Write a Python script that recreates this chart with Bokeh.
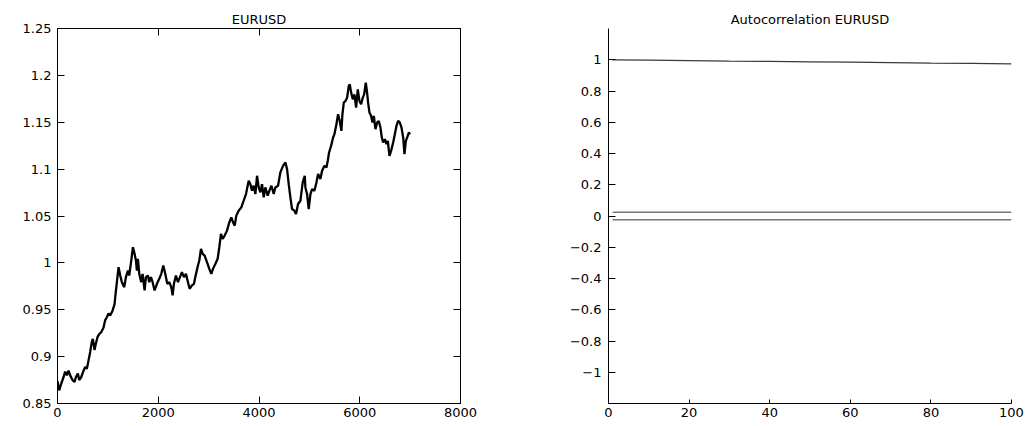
from bokeh.plotting import figure
from bokeh.layouts import row
from bokeh.models import Range1d, LinearAxis, FixedTicker, CustomLabelingPolicy
from bokeh.embed import file_html
from bokeh.resources import INLINE

# EURUSD price path (observation index, rate)
obs = [0, 33, 73, 119, 152, 186, 219, 252, 298, 338, 364, 404, 431, 470, 517, 550,
       583, 616, 649, 682, 702, 735, 762, 795, 828, 868, 914, 947, 980, 1013, 1046,
       1093, 1133, 1146, 1179, 1212, 1245, 1278, 1325, 1358, 1398, 1424, 1464, 1497,
       1530, 1557, 1576, 1596, 1623, 1662, 1689, 1729, 1755, 1795, 1821, 1855, 1888,
       1927, 1974, 2020, 2060, 2100, 2139, 2179, 2219, 2258, 2285, 2311, 2351, 2391,
       2431, 2470, 2510, 2550, 2590, 2623, 2669, 2709, 2735, 2788, 2815, 2848, 2881,
       2921, 2967, 3014, 3053, 3086, 3133, 3179, 3212, 3245, 3278, 3318, 3365, 3411,
       3451, 3484, 3517, 3550, 3596, 3649, 3696, 3742, 3795, 3828, 3861, 3894, 3928,
       3961, 3994, 4027, 4060, 4093, 4126, 4173, 4206, 4246, 4292, 4325, 4378, 4424,
       4477, 4524, 4557, 4590, 4623, 4656, 4702, 4735, 4775, 4822, 4868, 4908, 4921,
       4954, 4987, 5021, 5054, 5100, 5140, 5173, 5219, 5252, 5299, 5339, 5365, 5391,
       5431, 5471, 5497, 5537, 5570, 5603, 5636, 5656, 5683, 5716, 5749, 5782, 5802,
       5829, 5862, 5895, 5928, 5961, 5994, 6027, 6060, 6087, 6120, 6146, 6166, 6193,
       6226, 6252, 6279, 6312, 6345, 6378, 6411, 6438, 6464, 6498, 6531, 6557, 6590,
       6623, 6663, 6696, 6729, 6762, 6796, 6829, 6862, 6888, 6915, 6941, 6974, 7000]
rate = [0.874, 0.864, 0.871, 0.878, 0.884, 0.880, 0.885, 0.880, 0.875, 0.873, 0.878,
        0.882, 0.875, 0.878, 0.885, 0.889, 0.887, 0.896, 0.905, 0.916, 0.919, 0.907,
        0.914, 0.921, 0.924, 0.926, 0.931, 0.939, 0.942, 0.946, 0.944, 0.949, 0.956,
        0.9635, 0.9794, 0.9954, 0.9865, 0.9794, 0.9741, 0.9848, 0.9918, 0.9865, 1.0025,
        1.0167, 1.0096, 1.0025, 0.9918, 1.0043, 0.9883, 0.9794, 0.9883, 0.9706, 0.9848,
        0.9865, 0.9794, 0.9848, 0.9794, 0.9706, 0.9777, 0.9830, 0.9883, 0.9972, 0.9883,
        0.9777, 0.9794, 0.9741, 0.9653, 0.9777, 0.9865, 0.9794, 0.9848, 0.9901, 0.9848,
        0.9883, 0.9794, 0.9723, 0.9759, 0.9777, 0.9848, 0.9972, 1.0025, 1.0149, 1.0096,
        1.0078, 1.0007, 0.9936, 0.9883, 0.9936, 0.9989, 1.0043, 1.0167, 1.0309, 1.0255,
        1.0291, 1.0344, 1.0433, 1.0486, 1.0433, 1.0397, 1.0504, 1.0557, 1.0592, 1.0663,
        1.0734, 1.0876, 1.0840, 1.0770, 1.0823, 1.0734, 1.0929, 1.0805, 1.0752, 1.0840,
        1.0699, 1.0805, 1.0716, 1.0770, 1.0823, 1.0734, 1.0805, 1.0823, 1.0965, 1.1035,
        1.1071, 1.1000, 1.0840, 1.0699, 1.0574, 1.0557, 1.0521, 1.0628, 1.0663, 1.0858,
        1.0929, 1.0805, 1.0734, 1.0574, 1.0734, 1.0787, 1.0770, 1.0858, 1.0947, 1.0894,
        1.0982, 1.1035, 1.1018, 1.1089, 1.1177, 1.1248, 1.1337, 1.1372, 1.1479, 1.1585,
        1.1514, 1.1408, 1.1585, 1.1709, 1.1727, 1.1762, 1.1887, 1.1904, 1.1816, 1.1745,
        1.1798, 1.1656, 1.1851, 1.1727, 1.1691, 1.1762, 1.1798, 1.1922, 1.1816, 1.1709,
        1.1603, 1.1567, 1.1496, 1.1567, 1.1426, 1.1496, 1.1514, 1.1443, 1.1337, 1.1284,
        1.1319, 1.1266, 1.1301, 1.1142, 1.1195, 1.1284, 1.1372, 1.1461, 1.1514, 1.1496,
        1.1443, 1.1337, 1.1160, 1.1301, 1.1337, 1.1390, 1.1372]

# Sample autocorrelation by lag, with the approximate 95% band
lags = [1, 10, 20, 30, 40, 50, 60, 70, 80, 90, 100]
acf = [0.9995, 0.997, 0.994, 0.991, 0.989, 0.987, 0.985, 0.982, 0.979, 0.977, 0.974]
band = 0.024

price_xticks = [0, 2000, 4000, 6000, 8000]
price_yticks = [0.85, 0.9, 0.95, 1.0, 1.05, 1.1, 1.15, 1.2, 1.25]
price_ylabels = ["0.85", "0.9", "0.95", "1", "1.05", "1.1", "1.15", "1.2", "1.25"]
acf_xticks = [0, 20, 40, 60, 80, 100]
acf_yticks = [-1.0, -0.8, -0.6, -0.4, -0.2, 0.0, 0.2, 0.4, 0.6, 0.8, 1.0]
acf_ylabels = ["\u22121", "\u22120.8", "\u22120.6", "\u22120.4", "\u22120.2", "0",
               "0.2", "0.4", "0.6", "0.8", "1"]

FONT = "DejaVu Sans"
FS = "13px"

# labeling policy that keeps no labels (tick-only mirror axes)
NO_LABELS = "return new Set()"


def style_axis(ax, ticks, labels=None, show_labels=True):
    ax.ticker = FixedTicker(ticks=ticks)
    if labels is not None:
        ax.major_label_overrides = {t: l for t, l in zip(ticks, labels)}
    ax.minor_tick_line_color = None
    ax.major_tick_in = 7
    ax.major_tick_out = 0
    ax.axis_line_color = "black"
    ax.major_tick_line_color = "black"
    ax.major_label_text_font = FONT
    ax.major_label_text_color = "black"
    if show_labels:
        ax.major_label_text_font_size = FS
    else:
        ax.major_label_text_font_size = "0px"
        ax.major_label_policy = CustomLabelingPolicy(code=NO_LABELS)
        ax.major_label_standoff = 0


def style_title(p):
    p.title.text_font = FONT
    p.title.text_font_size = FS
    p.title.text_font_style = "normal"
    p.title.align = "center"
    p.title.text_color = "black"
    p.title.standoff = 3


# Left: price series in a boxed frame with inward ticks on all sides
p1 = figure(width=520, height=426, output_backend="svg", toolbar_location=None,
            x_range=Range1d(0, 8000), y_range=Range1d(0.85, 1.25),
            min_border_left=57, min_border_right=60, min_border_top=28,
            min_border_bottom=23, frame_width=403, frame_height=375,
            title="EURUSD")
p1.grid.visible = False
p1.outline_line_color = "black"
p1.outline_line_alpha = 1.0
style_title(p1)
style_axis(p1.xaxis[0], price_xticks)
p1.xaxis[0].major_label_standoff = 4
style_axis(p1.yaxis[0], price_yticks, price_ylabels)
p1.yaxis[0].major_label_standoff = 6
top_ax = LinearAxis()
style_axis(top_ax, price_xticks, show_labels=False)
p1.add_layout(top_ax, "above")
right_ax = LinearAxis()
style_axis(right_ax, price_yticks, show_labels=False)
p1.add_layout(right_ax, "right")
p1.line(obs, rate, line_color="black", line_width=2.3)

# Right: autocorrelation with confidence band
p2 = figure(width=513, height=426, output_backend="svg", toolbar_location=None,
            x_range=Range1d(0, 100), y_range=Range1d(-1.2, 1.2),
            min_border_left=88, min_border_right=22, min_border_top=28,
            min_border_bottom=23, frame_width=403, frame_height=375,
            title="Autocorrelation EURUSD")
p2.grid.visible = False
p2.outline_line_color = None
style_title(p2)
style_axis(p2.xaxis[0], acf_xticks)
p2.xaxis[0].major_tick_in = 4
p2.xaxis[0].major_label_standoff = 4
style_axis(p2.yaxis[0], acf_yticks, acf_ylabels)
p2.yaxis[0].major_label_standoff = 7
p2.line([lags[0], lags[-1]], [band, band], line_color="#7a7a7a", line_width=1.3)
p2.line([lags[0], lags[-1]], [-band, -band], line_color="#7a7a7a", line_width=1.3)
p2.line(lags, acf, line_color="#3a3a3a", line_width=1.3)

layout = row(p1, p2)
open("out.html", "w").write(file_html(layout, INLINE))
